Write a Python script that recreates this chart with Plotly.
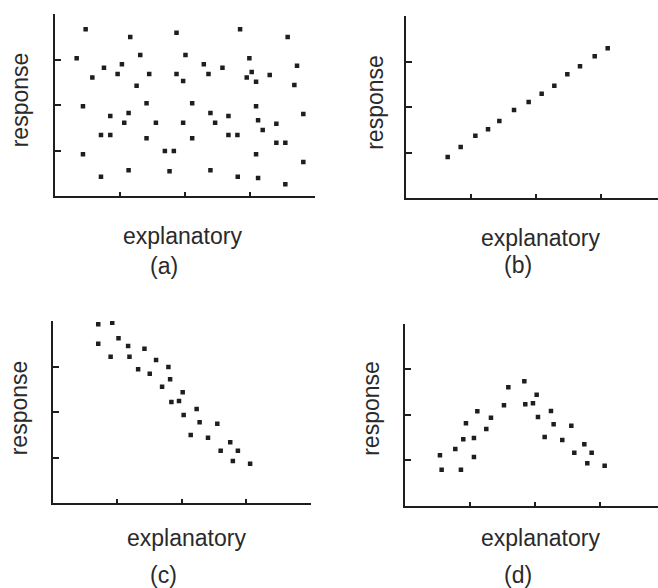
import plotly.graph_objects as go

W, H = 658, 588

# Panel (a): random scatter
a_x = [0.338, 0.476, 0.435, 0.435, 0.579, 0.712, 0.712, 0.758, 0.855, 0.855,
       0.968, 1.034, 1.070, 1.137, 1.137, 1.162, 1.260, 1.316, 1.413, 1.413,
       1.454, 1.557, 1.695, 1.767, 1.833, 1.874, 1.874, 1.976, 1.976, 2.012,
       2.115, 2.115, 2.294, 2.366, 2.396, 2.396, 2.468, 2.581, 2.673, 2.673,
       2.811, 2.816, 2.852, 2.954, 2.995, 3.031, 3.098, 3.098, 3.098, 3.129,
       3.129, 3.200, 3.308, 3.410, 3.410, 3.548, 3.548, 3.584, 3.687, 3.728,
       3.825, 3.825]
a_y = [3.031, 3.670, 1.974, 0.917, 2.606, 0.426, 1.343, 2.826, 1.761, 1.343,
       2.686, 2.899, 1.615, 1.828, 0.565, 3.501, 2.429, 3.105, 2.040, 1.270,
       2.686, 1.615, 0.991, 0.543, 0.991, 3.596, 2.686, 2.532, 1.615, 3.105,
       2.040, 1.270, 2.899, 2.686, 1.828, 0.565, 1.615, 2.826, 1.761, 1.343,
       1.343, 0.426, 3.670, 2.606, 3.031, 2.730, 2.517, 1.974, 0.917, 1.666,
       0.396, 1.453, 2.664, 1.593, 1.174, 1.174, 0.257, 3.501, 2.444, 2.870,
       1.806, 0.749]

# Panel (b): positive linear
b_x = [0.641, 0.841, 1.067, 1.262, 1.436, 1.662, 1.887, 2.087, 2.282, 2.482,
       2.677, 2.903, 3.103]
b_y = [0.907, 1.126, 1.375, 1.514, 1.697, 1.938, 2.113, 2.296, 2.472, 2.720,
       2.896, 3.115, 3.291]

# Panel (c): negative linear
c_x = [0.705, 0.922, 0.705, 1.019, 0.897, 1.168, 1.189, 1.421, 1.323, 1.503,
       1.601, 1.792, 1.818, 1.694, 2.013, 1.838, 1.956, 2.229, 2.028, 2.275,
       2.549, 2.137, 2.405, 2.749, 2.601, 2.868, 2.790, 3.057]
c_y = [3.927, 3.963, 3.503, 3.620, 3.218, 3.452, 3.218, 3.393, 2.940, 2.845,
       3.144, 2.991, 2.720, 2.559, 2.435, 2.223, 2.245, 2.069, 1.938, 1.777,
       1.748, 1.499, 1.441, 1.338, 1.155, 1.155, 0.929, 0.870]

# Panel (d): curved (inverted V)
d_x = [0.533, 0.559, 0.769, 0.856, 0.892, 0.933, 1.056, 1.056, 1.108, 1.246,
       1.318, 1.518, 1.585, 1.831, 1.846, 1.964, 2.021, 2.041, 2.144, 2.241,
       2.282, 2.415, 2.554, 2.600, 2.754, 2.800, 2.867, 3.067]
d_y = [1.112, 0.797, 1.250, 0.797, 1.463, 1.814, 1.492, 1.075, 2.077, 1.689,
       1.938, 2.208, 2.603, 2.735, 2.230, 2.252, 2.442, 1.952, 1.514, 2.084,
       1.792, 1.448, 1.762, 1.170, 1.353, 0.936, 1.170, 0.885]

panel_labels = ["(a)", "(b)", "(c)", "(d)"]
x_title = "explanatory"
y_title = "response"

INK = "#1e1e1e"
TEXT = "#2a2a2a"
FONT = "Liberation Sans, Arial, sans-serif"

# pixel geometry of each panel's axes
panels = [
    dict(x=a_x, y=a_y, xl=54.7, xr=314.7, xmax=4.0, yb=196.0, yt=14.3),
    dict(x=b_x, y=b_y, xl=406.0, xr=658.0, xmax=(658 - 406.0) / 65.0, yb=198.3, yt=16.0),
    dict(x=c_x, y=c_y, xl=52.7, xr=311.0, xmax=4.0, yb=503.3, yt=321.0),
    dict(x=d_x, y=d_y, xl=405.3, xr=658.0, xmax=(658 - 405.3) / 65.0, yb=506.0, yt=323.7),
]

fig = go.Figure()
layout = dict(
    width=W, height=H,
    margin=dict(l=0, r=0, t=0, b=0),
    paper_bgcolor="white", plot_bgcolor="white",
    showlegend=False,
    font=dict(family=FONT, color=TEXT),
)

for i, p in enumerate(panels):
    n = "" if i == 0 else str(i + 1)
    fig.add_trace(go.Scatter(
        x=p["x"], y=p["y"], mode="markers",
        marker=dict(symbol="square", size=4.5, color=INK),
        xaxis="x" + n, yaxis="y" + n, hoverinfo="skip",
    ))
    common = dict(showgrid=False, zeroline=False, showticklabels=False,
                  showline=True, linecolor=INK, linewidth=2,
                  ticks="inside", tickcolor=INK, tickwidth=2,
                  tickmode="array", fixedrange=True)
    layout["xaxis" + n] = dict(
        common, domain=[p["xl"] / W, min(p["xr"] / W, 1.0)],
        range=[0, p["xmax"]], tickvals=[1, 2, 3, 4], ticklen=4,
        anchor="y" + n)
    layout["yaxis" + n] = dict(
        common, domain=[1 - p["yb"] / H, 1 - p["yt"] / H],
        range=[0, 4], tickvals=[1, 2, 3, 4], ticklen=6,
        anchor="x" + n)

# text positions in pixels
label_pos = [
    dict(resp=(20.0, 100.3), expl=(182.7, 236.3), lab=(163.7, 266.3)),
    dict(resp=(374.8, 102.0), expl=(540.7, 238.0), lab=(517.8, 265.5)),
    dict(resp=(18.8, 407.5), expl=(186.7, 538.0), lab=(163.0, 575.0)),
    dict(resp=(370.8, 408.0), expl=(540.0, 538.3), lab=(518.3, 575.0)),
]

ann = []
FS = 23
for i, lp in enumerate(label_pos):
    for key, text, ang in [("resp", y_title, -90), ("expl", x_title, 0),
                           ("lab", panel_labels[i], 0)]:
        px, py = lp[key]
        ann.append(dict(
            x=px / W, y=1 - py / H, xref="paper", yref="paper",
            text=text, showarrow=False, textangle=ang,
            xanchor="center", yanchor="middle",
            font=dict(family=FONT, size=FS, color=TEXT),
        ))
layout["annotations"] = ann

fig.update_layout(**layout)
fig.write_html("out.html")
